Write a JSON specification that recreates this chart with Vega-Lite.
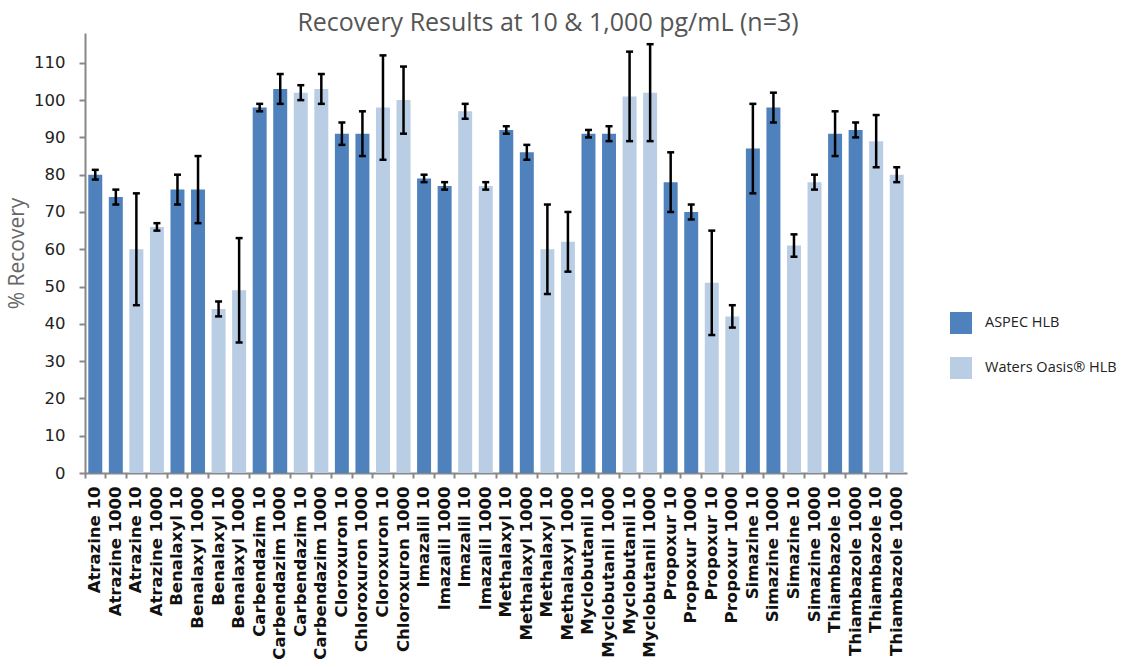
{
  "$schema": "https://vega.github.io/schema/vega-lite/v6.json",
  "width": 822,
  "height": 440,
  "autosize": {"type": "none"},
  "padding": {"left": 85, "top": 33, "right": 219, "bottom": 194},
  "background": "white",
  "title": {"text": "Recovery Results at 10 & 1,000 pg/mL (n=3)", "anchor": "middle", "dx": 52, "font": "Open Sans", "fontSize": 25, "fontWeight": "normal", "color": "#555555", "offset": -3},
  "data": {"values": [
    {"key": "01|Atrazine 10", "sorbent": "ASPEC HLB", "value": 80, "lo": 78.7, "hi": 81.3},
    {"key": "02|Atrazine 1000", "sorbent": "ASPEC HLB", "value": 74, "lo": 72, "hi": 76},
    {"key": "03|Atrazine 10", "sorbent": "Waters Oasis® HLB", "value": 60, "lo": 45, "hi": 75},
    {"key": "04|Atrazine 1000", "sorbent": "Waters Oasis® HLB", "value": 66, "lo": 65, "hi": 67},
    {"key": "05|Benalaxyl 10", "sorbent": "ASPEC HLB", "value": 76, "lo": 72, "hi": 80},
    {"key": "06|Benalaxyl 1000", "sorbent": "ASPEC HLB", "value": 76, "lo": 67, "hi": 85},
    {"key": "07|Benalaxyl 10", "sorbent": "Waters Oasis® HLB", "value": 44, "lo": 42, "hi": 46},
    {"key": "08|Benalaxyl 1000", "sorbent": "Waters Oasis® HLB", "value": 49, "lo": 35, "hi": 63},
    {"key": "09|Carbendazim 10", "sorbent": "ASPEC HLB", "value": 98, "lo": 97, "hi": 99},
    {"key": "10|Carbendazim 1000", "sorbent": "ASPEC HLB", "value": 103, "lo": 99, "hi": 107},
    {"key": "11|Carbendazim 10", "sorbent": "Waters Oasis® HLB", "value": 102, "lo": 100, "hi": 104},
    {"key": "12|Carbendazim 1000", "sorbent": "Waters Oasis® HLB", "value": 103, "lo": 99, "hi": 107},
    {"key": "13|Cloroxuron 10", "sorbent": "ASPEC HLB", "value": 91, "lo": 88, "hi": 94},
    {"key": "14|Chloroxuron 1000", "sorbent": "ASPEC HLB", "value": 91, "lo": 85, "hi": 97},
    {"key": "15|Cloroxuron 10", "sorbent": "Waters Oasis® HLB", "value": 98, "lo": 84, "hi": 112},
    {"key": "16|Chloroxuron 1000", "sorbent": "Waters Oasis® HLB", "value": 100, "lo": 91, "hi": 109},
    {"key": "17|Imazalil 10", "sorbent": "ASPEC HLB", "value": 79, "lo": 78, "hi": 80},
    {"key": "18|Imazalil 1000", "sorbent": "ASPEC HLB", "value": 77, "lo": 76, "hi": 78},
    {"key": "19|Imazalil 10", "sorbent": "Waters Oasis® HLB", "value": 97, "lo": 95, "hi": 99},
    {"key": "20|Imazalil 1000", "sorbent": "Waters Oasis® HLB", "value": 77, "lo": 76, "hi": 78},
    {"key": "21|Methalaxyl 10", "sorbent": "ASPEC HLB", "value": 92, "lo": 91, "hi": 93},
    {"key": "22|Methalaxyl 1000", "sorbent": "ASPEC HLB", "value": 86, "lo": 84, "hi": 88},
    {"key": "23|Methalaxyl 10", "sorbent": "Waters Oasis® HLB", "value": 60, "lo": 48, "hi": 72},
    {"key": "24|Methalaxyl 1000", "sorbent": "Waters Oasis® HLB", "value": 62, "lo": 54, "hi": 70},
    {"key": "25|Myclobutanil 10", "sorbent": "ASPEC HLB", "value": 91, "lo": 90, "hi": 92},
    {"key": "26|Myclobutanil 1000", "sorbent": "ASPEC HLB", "value": 91, "lo": 89, "hi": 93},
    {"key": "27|Myclobutanil 10", "sorbent": "Waters Oasis® HLB", "value": 101, "lo": 89, "hi": 113},
    {"key": "28|Myclobutanil 1000", "sorbent": "Waters Oasis® HLB", "value": 102, "lo": 89, "hi": 115},
    {"key": "29|Propoxur 10", "sorbent": "ASPEC HLB", "value": 78, "lo": 70, "hi": 86},
    {"key": "30|Propoxur 1000", "sorbent": "ASPEC HLB", "value": 70, "lo": 68, "hi": 72},
    {"key": "31|Propoxur 10", "sorbent": "Waters Oasis® HLB", "value": 51, "lo": 37, "hi": 65},
    {"key": "32|Propoxur 1000", "sorbent": "Waters Oasis® HLB", "value": 42, "lo": 39, "hi": 45},
    {"key": "33|Simazine 10", "sorbent": "ASPEC HLB", "value": 87, "lo": 75, "hi": 99},
    {"key": "34|Simazine 1000", "sorbent": "ASPEC HLB", "value": 98, "lo": 94, "hi": 102},
    {"key": "35|Simazine 10", "sorbent": "Waters Oasis® HLB", "value": 61, "lo": 58, "hi": 64},
    {"key": "36|Simazine 1000", "sorbent": "Waters Oasis® HLB", "value": 78, "lo": 76, "hi": 80},
    {"key": "37|Thiambazole 10", "sorbent": "ASPEC HLB", "value": 91, "lo": 85, "hi": 97},
    {"key": "38|Thiambazole 1000", "sorbent": "ASPEC HLB", "value": 92, "lo": 90, "hi": 94},
    {"key": "39|Thiambazole 10", "sorbent": "Waters Oasis® HLB", "value": 89, "lo": 82, "hi": 96},
    {"key": "40|Thiambazole 1000", "sorbent": "Waters Oasis® HLB", "value": 80, "lo": 78, "hi": 82}
  ]},
  "encoding": {
    "x": {
      "field": "key", "type": "nominal", "sort": null,
      "scale": {"paddingInner": 0, "paddingOuter": 0},
      "axis": {
        "title": null, "bandPosition": 0, "labelExpr": "split(datum.value, '|')[1]",
        "labelAngle": -90, "labelFont": "DejaVu Sans", "labelFontWeight": "bold", "labelFontSize": 16.5,
        "labelColor": "#111111", "labelPadding": 8, "labelOverlap": false, "labelLimit": 300,
        "tickSize": 5, "tickColor": "#888888", "tickWidth": 2,
        "domainColor": "#888888", "domainWidth": 2
      }
    }
  },
  "layer": [
    {
      "mark": {"type": "bar", "width": {"band": 0.68}},
      "encoding": {
        "y": {
          "field": "value", "type": "quantitative",
          "scale": {"domain": [0, 118], "nice": false},
          "axis": {"values": [0, 10, 20, 30, 40, 50, 60, 70, 80, 90, 100, 110], "title": "% Recovery"}
        },
        "color": {
          "field": "sorbent", "type": "nominal",
          "scale": {"domain": ["ASPEC HLB", "Waters Oasis® HLB"], "range": ["#4f81bd", "#b9cde5"]},
          "legend": {
            "title": null, "orient": "none", "legendX": 865, "legendY": 279, "padding": 0,
            "symbolType": "square", "symbolSize": 484, "symbolStrokeWidth": 0, "symbolOpacity": 1,
            "labelFont": "Open Sans", "labelFontSize": 14.5, "labelColor": "#222222",
            "rowPadding": 23, "labelOffset": 13, "labelLimit": 300
          }
        }
      }
    },
    {
      "mark": {"type": "rule", "color": "#000000", "strokeWidth": 2.5},
      "encoding": {
        "y": {"field": "lo", "type": "quantitative", "axis": {"values": [0, 10, 20, 30, 40, 50, 60, 70, 80, 90, 100, 110], "title": "% Recovery"}},
        "y2": {"field": "hi"}
      }
    },
    {
      "mark": {"type": "tick", "color": "#000000", "thickness": 2.5, "size": 7, "opacity": 1},
      "encoding": {"y": {"field": "lo", "type": "quantitative", "axis": {"values": [0, 10, 20, 30, 40, 50, 60, 70, 80, 90, 100, 110], "title": "% Recovery"}}}
    },
    {
      "mark": {"type": "tick", "color": "#000000", "thickness": 2.5, "size": 7, "opacity": 1},
      "encoding": {"y": {"field": "hi", "type": "quantitative", "axis": {"values": [0, 10, 20, 30, 40, 50, 60, 70, 80, 90, 100, 110], "title": "% Recovery"}}}
    }
  ],
  "config": {
    "view": {"stroke": null},
    "axisY": {
      "grid": false, "labelOverlap": false,
      "tickSize": 6, "tickColor": "#888888", "tickWidth": 2,
      "domainColor": "#888888", "domainWidth": 2,
      "labelFont": "DejaVu Sans", "labelFontSize": 16.5, "labelColor": "#222222", "labelPadding": 14,
      "titleFont": "Open Sans", "titleFontSize": 21, "titleFontWeight": "normal",
      "titleColor": "#666666", "titlePadding": 6
    }
  }
}
